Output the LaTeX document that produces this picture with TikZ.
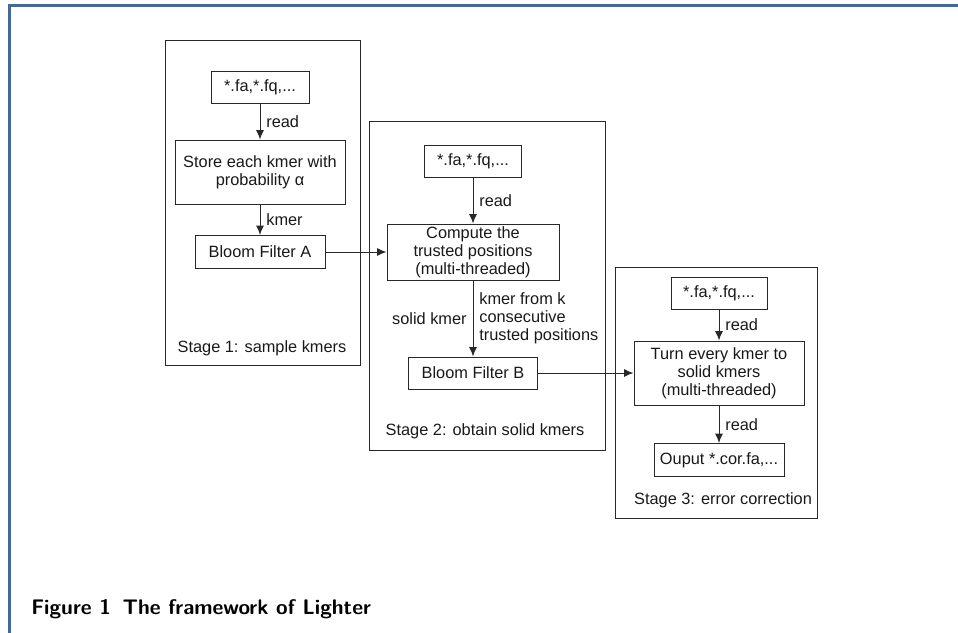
\documentclass[tikz,border=0pt]{standalone}
\usepackage{fontspec}
\setmainfont{Liberation Sans}
\usetikzlibrary{arrows.meta}
\definecolor{ink}{RGB}{25,25,25}
\definecolor{edge}{RGB}{40,40,40}
\definecolor{frameblue}{RGB}{70,104,150}
\begin{document}
\begin{tikzpicture}[x=0.2mm,y=-0.2mm,line width=0.55pt,
                    every node/.style={text=ink,font=\fontsize{9.3}{10.2}\selectfont},
                    box/.style={draw=edge,fill=white,align=center,inner sep=1pt},
                    >={Latex[length=1.9mm,width=1.6mm]}]
    \useasboundingbox (0,0) rectangle (958,633);
    \draw[frameblue,line width=1.4pt] (9.5,633) -- (9.5,5.5) -- (958,5.5);

    % stage frames
    \draw[edge] (165,40) rectangle (360,365);
    \draw[edge] (369,121) rectangle (605,450);
    \draw[edge] (615,267) rectangle (817,518);

    % stage 1
    \node[box,minimum width=19.6mm,minimum height=6.4mm] (inA) at (260,87) {*.fa,*.fq,...};
    \node[box,minimum width=34mm,minimum height=12.8mm] (store) at (260,172)
         {Store each kmer with\\probability α};
    \node[box,minimum width=26mm,minimum height=6.6mm] (bfA) at (260,252) {Bloom Filter A};
    \node (st1) at (262,348) {Stage 1: sample kmers};

    % stage 2
    \node[box,minimum width=19.4mm,minimum height=6.4mm] (inB) at (473,161) {*.fa,*.fq,...};
    \node[box,minimum width=34.4mm,minimum height=11.2mm] (comp) at (473,252)
         {Compute the\\trusted positions\\(multi-threaded)};
    \node[box,minimum width=25.8mm,minimum height=6.4mm] (bfB) at (473,373) {Bloom Filter B};
    \node (st2) at (485,431) {Stage 2: obtain solid kmers};

    % stage 3
    \node[box,minimum width=19.2mm,minimum height=6.4mm] (inC) at (719,293) {*.fa,*.fq,...};
    \node[box,minimum width=34mm,minimum height=12.8mm] (turn) at (719,373)
         {Turn every kmer to\\solid kmers\\(multi-threaded)};
    \node[box,minimum width=26mm,minimum height=6.6mm] (out) at (719,460) {Ouput *.cor.fa,...};
    \node (st3) at (723,500) {Stage 3: error correction};

    \draw[edge,->] (inA) -- node[right] {read} (store);
    \draw[edge,->] (store) -- node[right] {kmer} (bfA);
    \draw[edge,->] (bfA) -- (comp);
    \draw[edge,->] (inB) -- node[right] {read} (comp);
    \draw[edge,->] (comp) -- node[left] {solid kmer}
          node[right,align=left] {kmer from k\\consecutive\\trusted positions} (bfB);
    \draw[edge,->] (bfB) -- (turn);
    \draw[edge,->] (inC) -- node[right] {read} (turn);
    \draw[edge,->] (turn) -- node[right] {read} (out);

    \node[anchor=base west,font=\sffamily\bfseries\fontsize{12}{13}\selectfont,text=black]
         (caption) at (25,614) {Figure 1\hspace{0.55em}The framework of Lighter};
\end{tikzpicture}
\end{document}
